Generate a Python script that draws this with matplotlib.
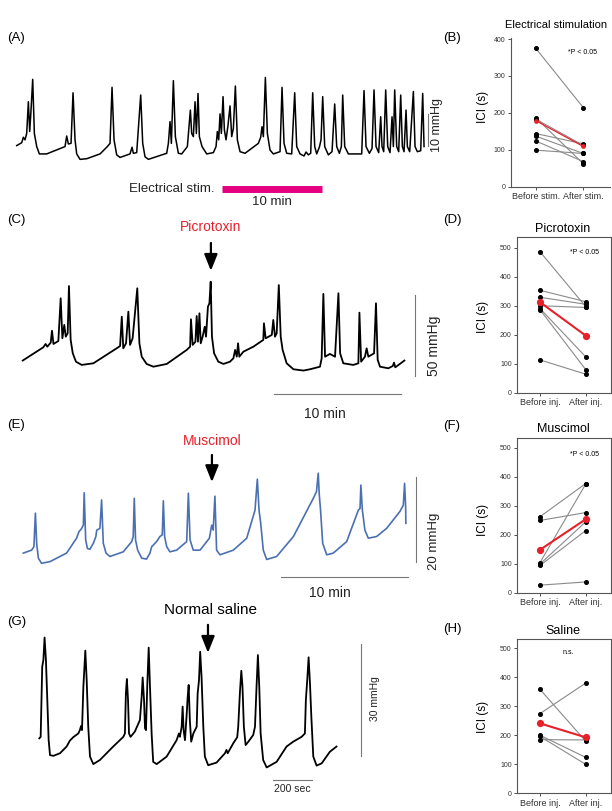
import matplotlib.pyplot as plt

plt.rcParams['font.family'] = ['Liberation Sans', 'DejaVu Sans']

# ---- bladder pressure traces: (time s, pressure mmHg) ----
trace_a = [(0, 4.5), (30, 5.4), (40, 7.1), (50, 6.3), (60, 8.3), (70, 18.2), (78, 8.9), (86, 15.6),
           (96, 25.2), (106, 8.3), (120, 4.2), (136, 1.9), (180, 1.9), (290, 4.2), (300, 7.5), (310, 5.0),
           (326, 5.2), (338, 21.0), (350, 6.3), (360, 1.9), (380, 0.2), (420, 0.4), (500, 1.9), (544, 4.2),
           (560, 5.2), (572, 22.7), (584, 6.3), (600, 1.6), (620, 0.8), (680, 1.9), (692, 4.0), (700, 2.1),
           (720, 2.3), (744, 20.3), (756, 5.2), (770, 1.0), (790, 0.2), (900, 2.1), (910, 5.2), (920, 12.0),
           (928, 5.2), (940, 24.8), (952, 7.3), (970, 2.1), (990, 1.9), (1024, 4.2), (1042, 15.6),
           (1050, 8.3), (1060, 7.3), (1070, 18.2), (1078, 8.3), (1088, 20.8), (1096, 7.3), (1112, 4.2),
           (1140, 1.9), (1180, 2.3), (1196, 4.2), (1204, 8.9), (1212, 6.3), (1220, 14.4), (1228, 8.3),
           (1238, 19.8), (1246, 9.4), (1256, 6.3), (1268, 10.9), (1280, 16.9), (1290, 7.3), (1300, 9.9),
           (1312, 23.1), (1324, 6.3), (1340, 2.6), (1370, 2.1), (1450, 5.2), (1464, 7.1), (1472, 10.4),
           (1480, 7.3), (1492, 25.8), (1504, 8.3), (1520, 3.1), (1540, 1.9), (1580, 2.6), (1592, 22.7),
           (1604, 5.2), (1620, 2.1), (1650, 1.9), (1668, 21.0), (1680, 4.2), (1700, 1.9), (1724, 1.25),
           (1736, 2.5), (1750, 1.6), (1764, 2.1), (1776, 21.0), (1788, 4.2), (1800, 1.9), (1816, 4.0),
           (1826, 6.3), (1836, 19.8), (1848, 4.2), (1870, 1.6), (1892, 2.6), (1908, 17.5), (1920, 4.2),
           (1936, 2.1), (1948, 4.2), (1956, 20.3), (1968, 4.2), (1990, 1.9), (2070, 1.9), (2084, 21.7),
           (2096, 4.2), (2116, 2.1), (2132, 3.6), (2144, 21.9), (2156, 4.2), (2172, 2.3), (2184, 13.5),
           (2192, 4.2), (2202, 2.6), (2214, 21.9), (2226, 4.2), (2240, 2.3), (2252, 13.5), (2260, 4.2),
           (2268, 21.9), (2280, 4.2), (2292, 2.6), (2304, 20.3), (2314, 4.2), (2324, 2.6), (2336, 15.6),
           (2344, 4.2), (2358, 2.6), (2380, 21.4), (2390, 4.2), (2404, 2.6), (2424, 2.9), (2436, 20.8),
           (2444, 4.2)]

trace_c = [(0, 7.9), (97, 16.1), (108, 18.2), (116, 16.5), (132, 19.0), (138, 26.4), (145, 18.2),
           (168, 20.0), (179, 46.5), (187, 21.7), (196, 30.0), (203, 22.7), (212, 24.8), (218, 54.1),
           (226, 20.7), (236, 12.4), (251, 7.2), (278, 5.2), (333, 6.2), (443, 15.5), (459, 16.9),
           (467, 35.1), (474, 15.5), (487, 18.6), (498, 38.2), (506, 17.6), (518, 21.7), (540, 52.7),
           (550, 18.6), (561, 10.3), (584, 5.8), (616, 4.1), (679, 5.8), (773, 14.5), (789, 16.5),
           (793, 33.5), (801, 17.6), (814, 19.6), (820, 35.5), (826, 19.6), (833, 37.2), (839, 18.6),
           (848, 22.7), (858, 28.9), (864, 22.7), (873, 41.3), (880, 43.4), (886, 56.8), (892, 22.7),
           (902, 12.4), (922, 7.2), (946, 5.8), (977, 7.2), (993, 9.3), (1001, 14.5), (1009, 10.3),
           (1015, 18.6), (1021, 10.3), (1040, 13.4), (1087, 16.5), (1134, 20.7), (1137, 31.0),
           (1145, 21.7), (1174, 23.8), (1181, 33.1), (1189, 22.7), (1197, 24.8), (1207, 54.7),
           (1216, 22.7), (1225, 14.5), (1244, 6.2), (1276, 2.5), (1323, 1.7), (1354, 2.5), (1401, 4.1),
           (1409, 9.3), (1417, 49.2), (1425, 10.3), (1448, 12.0), (1472, 10.3), (1488, 49.6),
           (1496, 12.4), (1511, 6.2), (1558, 5.2), (1582, 6.2), (1587, 37.6), (1595, 7.2), (1613, 10.3),
           (1621, 15.5), (1629, 10.3), (1656, 12.4), (1665, 43.4), (1673, 8.3), (1684, 4.1), (1723, 3.1),
           (1744, 4.5), (1750, 6.6), (1756, 3.7), (1799, 7.9)]

trace_e = [(0, 2.4), (39, 3.1), (50, 3.9), (57, 11.8), (63, 4.7), (71, 1.2), (86, 0.0), (126, 0.4),
           (204, 2.4), (251, 5.9), (262, 7.4), (275, 8.2), (283, 9.0), (287, 16.6), (294, 5.5), (302, 3.5),
           (314, 3.3), (330, 4.7), (342, 6.3), (346, 7.8), (361, 8.2), (369, 14.9), (377, 4.7), (390, 2.4),
           (408, 1.6), (471, 2.7), (511, 5.1), (518, 6.3), (523, 15.3), (529, 5.5), (539, 3.1), (558, 1.2),
           (581, 1.0), (597, 2.4), (605, 3.9), (613, 4.3), (628, 5.1), (644, 6.3), (655, 6.7), (660, 14.7),
           (666, 6.3), (676, 3.9), (691, 2.7), (723, 3.1), (770, 5.1), (778, 16.5), (786, 5.5), (801, 3.1),
           (833, 3.1), (877, 5.9), (888, 9.0), (895, 7.8), (903, 15.8), (911, 3.1), (927, 2.0), (990, 3.1),
           (1053, 5.9), (1092, 12.5), (1103, 19.8), (1111, 12.5), (1119, 9.4), (1131, 3.1), (1147, 0.9),
           (1194, 1.6), (1273, 6.3), (1367, 15.3), (1382, 16.9), (1390, 21.2), (1395, 16.1), (1401, 12.5),
           (1411, 4.7), (1430, 2.0), (1461, 2.4), (1524, 5.1), (1579, 12.5), (1587, 12.9), (1591, 18.4),
           (1598, 12.5), (1610, 7.8), (1626, 5.9), (1665, 6.3), (1712, 8.2), (1775, 12.2), (1791, 13.7),
           (1797, 18.8), (1802, 13.3), (1803, 9.4)]

trace_g = [(0, 7.6), (7, 8.0), (15, 26.8), (21, 28.6), (27, 34.6), (34, 28.6), (41, 17.9), (48, 7.1),
           (55, 3.1), (72, 2.9), (106, 3.6), (140, 5.4), (157, 7.0), (174, 7.9), (200, 8.9), (208, 9.8),
           (214, 10.9), (219, 9.8), (226, 21.4), (236, 31.1), (243, 23.2), (251, 10.7), (260, 2.7),
           (277, 0.7), (311, 1.8), (379, 5.4), (431, 8.0), (439, 8.9), (444, 19.6), (449, 23.5),
           (455, 17.9), (460, 8.9), (468, 8.0), (490, 9.4), (516, 12.5), (525, 18.8), (530, 23.9),
           (537, 17.9), (542, 10.3), (547, 9.8), (554, 22.3), (561, 31.9), (567, 22.3), (576, 8.9),
           (584, 1.3), (602, 0.7), (653, 2.7), (704, 7.1), (716, 8.9), (721, 8.0), (730, 10.7), (735, 16.1),
           (740, 9.8), (747, 7.1), (755, 13.4), (761, 18.8), (766, 21.9), (772, 12.5), (779, 6.7),
           (790, 8.9), (807, 10.7), (812, 19.6), (819, 23.2), (825, 30.8), (832, 24.1), (841, 10.7),
           (849, 2.7), (866, 0.4), (909, 1.1), (952, 3.6), (960, 4.5), (966, 3.6), (995, 6.3), (1015, 7.9),
           (1020, 10.7), (1029, 20.1), (1036, 25.7), (1042, 21.4), (1049, 10.7), (1058, 5.8), (1072, 6.7),
           (1097, 8.5), (1106, 10.7), (1114, 21.4), (1121, 29.9), (1128, 21.4), (1135, 8.9), (1148, 1.8),
           (1166, -0.2), (1217, 1.3), (1268, 5.4), (1302, 6.7), (1345, 8.0), (1362, 8.9), (1367, 17.9),
           (1374, 23.2), (1381, 29.3), (1388, 22.3), (1395, 13.4), (1405, 2.7), (1422, 0.3), (1448, 0.9),
           (1490, 4.0), (1524, 5.4)]

stim_start, stim_len = 1230, 600      # electrical stimulation, s
inj_c, inj_e, inj_g = 887, 889, 865   # injection times, s

# ---- ICI (s) before / after, individual animals and mean ----
stim_before = [375, 187, 183, 144, 137, 124, 99]
stim_after = [214, 62, 112, 116, 90, 68, 90]
stim_mean = [179, 109]

picro_before = [486, 353, 329, 300, 290, 286, 113]
picro_after = [297, 314, 305, 294, 124, 80, 64]
picro_mean = [312, 197]

musc_before = [262, 249, 104, 99, 94, 26]
musc_after = [376, 276, 374, 244, 214, 37]
musc_mean = [148, 253]

sal_before = [358, 275, 200, 196, 185]
sal_after = [180, 380, 124, 100, 184]
sal_mean = [241, 193]

W, H = 612, 811
fig = plt.figure(figsize=(W / 100, H / 100), dpi=100)
fig.patch.set_facecolor('white')

RED = '#e8202a'
GREY = '#777777'


def fx(x):
    return x / W


def fy(y):
    return 1 - y / H


def put(x, y, s, size, ha='center', **kw):
    fig.text(fx(x), fy(y), s, fontsize=size, ha=ha, va='center', **kw)


def trace_axes(box, t0_px, s_per_px, p0_px, px_per_mmhg):
    x0, y0, x1, y1 = box
    ax = fig.add_axes([fx(x0), fy(y1), (x1 - x0) / W, (y1 - y0) / H])
    ax.set_xlim((x0 - t0_px) * s_per_px, (x1 - t0_px) * s_per_px)
    ax.set_ylim((p0_px - y1) / px_per_mmhg, (p0_px - y0) / px_per_mmhg)
    ax.axis('off')
    return ax


def draw_trace(ax, pts, color='black', lw=1.1):
    t, p = zip(*pts)
    ax.plot(t, p, color=color, lw=lw, solid_joinstyle='round')


def arrow(ax, t, p_tip, p_tail):
    ax.annotate('', xy=(t, p_tip), xytext=(t, p_tail),
                arrowprops=dict(arrowstyle='-|>,head_length=1.0,head_width=0.4',
                                color='black', lw=1.6, shrinkA=0, shrinkB=0, mutation_scale=10))


# (A) electrical stimulation trace
ax = trace_axes((0, 60, 440, 210), 16.7, 6.0, 160, 3.2)
draw_trace(ax, trace_a)
ax.plot([2468, 2468], [4.4, 4.4 + 10], color=GREY, lw=0.8)
ax.plot([stim_start, stim_start + stim_len], [-9.2, -9.2], color='#e4007f', lw=5, solid_capstyle='butt')
put(7, 38, '(A)', 9.5, ha='left')
put(215, 189, 'Electrical stim.', 9.5, ha='right', color='#222222')
put(272, 202, '10 min', 9.5, color='#222222')
put(437, 125, '10 mmHg', 9, rotation=90, color='#222222')

# (C) picrotoxin trace
ax = trace_axes((0, 230, 440, 420), 22.7, 4.713, 373.3, 1.613)
draw_trace(ax, trace_c, lw=1.3)
ax.plot([1849, 1849], [-1.5, -1.5 + 50], color=GREY, lw=0.8)
ax.plot([1184, 1184 + 600], [-12.8, -12.8], color=GREY, lw=0.8)
arrow(ax, inj_c, 63.5, 80.8)
put(7, 220, '(C)', 9.5, ha='left')
put(211, 227, 'Picrotoxin', 10, color=RED)
put(434, 346, '50 mmHg', 10, rotation=90, color='#222222')
put(325, 414, '10 min', 10, color='#222222')

# (E) muscimol trace
ax = trace_axes((0, 430, 440, 600), 23.3, 4.713, 563.3, 4.25)
draw_trace(ax, trace_e, color='#4b70b2', lw=1.2)
ax.plot([1851, 1851], [0.3, 0.3 + 20], color=GREY, lw=0.8)
ax.plot([1214, 1214 + 600], [-3.2, -3.2], color=GREY, lw=0.8)
arrow(ax, inj_e, 19.1, 25.5)
put(7, 425, '(E)', 9.5, ha='left')
put(212, 441, 'Muscimol', 10, color=RED)
put(434, 541, '20 mmHg', 9.5, rotation=90, color='#222222')
put(330, 593, '10 min', 10, color='#222222')

# (G) saline trace
ax = trace_axes((0, 630, 440, 805), 39.3, 5.128, 766.7, 3.733)
draw_trace(ax, trace_g, lw=1.3)
ax.plot([1650, 1650], [2.9, 2.9 + 30], color=GREY, lw=0.8)
ax.plot([1198, 1198 + 200], [-3.6, -3.6], color=GREY, lw=0.8)
arrow(ax, inj_g, 30.5, 38.0)
put(7, 622, '(G)', 9.5, ha='left')
put(210, 610, 'Normal saline', 11)
put(375, 699, '30 mmHg', 7.5, rotation=90, color='#222222')
put(292, 789, '200 sec', 7.5, color='#222222')


# ---- ICI panels ----
def ici_axes(box, ymax, yticks, xlabels, boxed=True):
    x0, y0, x1, y1 = box
    ax = fig.add_axes([fx(x0), fy(y1), (x1 - x0) / W, (y1 - y0) / H])
    ax.set_ylim(0, ymax)
    ax.set_yticks(yticks)
    ax.set_xticks([0, 1])
    ax.set_xticklabels(xlabels)
    ax.tick_params(axis='y', labelsize=5, length=2.5, width=0.6, pad=1.5, colors='#333333')
    ax.tick_params(axis='x', labelsize=6.5, length=2.5, width=0.6, pad=1.5, colors='#333333')
    for name, sp in ax.spines.items():
        sp.set_color('#555555')
        sp.set_linewidth(0.8)
        if not boxed and name in ('top', 'right'):
            sp.set_visible(False)
    return ax


def pairs(ax, before, after, mean, big_mean=True):
    for b, a in zip(before, after):
        ax.plot([0, 1], [b, a], color='#8a8a8a', lw=0.8, zorder=2)
        ax.plot([0, 1], [b, a], 'o', color='black', ms=2.6, zorder=3)
    if big_mean:
        ax.plot([0, 1], mean, '-o', color=RED, lw=1.5, ms=4.2, zorder=4)
    else:
        ax.plot([0, 1], mean, '-o', color=RED, lw=0.9, ms=2.4, zorder=4)


ax = ici_axes((511, 38.3, 610, 186.7), 402, [0, 100, 200, 300, 400], ['Before stim.', 'After stim.'], boxed=False)
ax.set_xlim(-0.52, 1.56)
pairs(ax, stim_before, stim_after, stim_mean, big_mean=False)
put(443, 38, '(B)', 9.5, ha='left')
put(556, 25, 'Electrical stimulation', 8)
put(483, 107, 'ICI (s)', 8.5, rotation=90)
put(582, 53, '*P < 0.05', 5)

ticks5 = [0, 100, 200, 300, 400, 500]
panels = [
    ((517.3, 236.7, 610.7, 392.7), 538, picro_before, picro_after, picro_mean, 220, '(D)', 'Picrotoxin', 229, 317, '*P < 0.05', 253),
    ((517.3, 437.7, 610.7, 592.7), 534, musc_before, musc_after, musc_mean, 426, '(F)', 'Muscimol', 429, 520, '*P < 0.05', 455),
    ((517.3, 639.3, 610.7, 793.3), 531, sal_before, sal_after, sal_mean, 629, '(H)', 'Saline', 631, 717, 'n.s.', 653),
]
for box, ymax, bef, aft, mean, ly, lab, title, ty, yl, note, ny in panels:
    ax = ici_axes(box, ymax, ticks5, ['Before inj.', 'After inj.'])
    ax.set_xlim(-0.5, 1.55)
    pairs(ax, bef, aft, mean)
    put(443, ly, lab, 9.5, ha='left')
    put(563, ty, title, 9)
    put(483, yl, 'ICI (s)', 8.5, rotation=90)
    put(585 if note != 'n.s.' else 568, ny, note, 5)

fig.savefig('out.png', dpi=100)
